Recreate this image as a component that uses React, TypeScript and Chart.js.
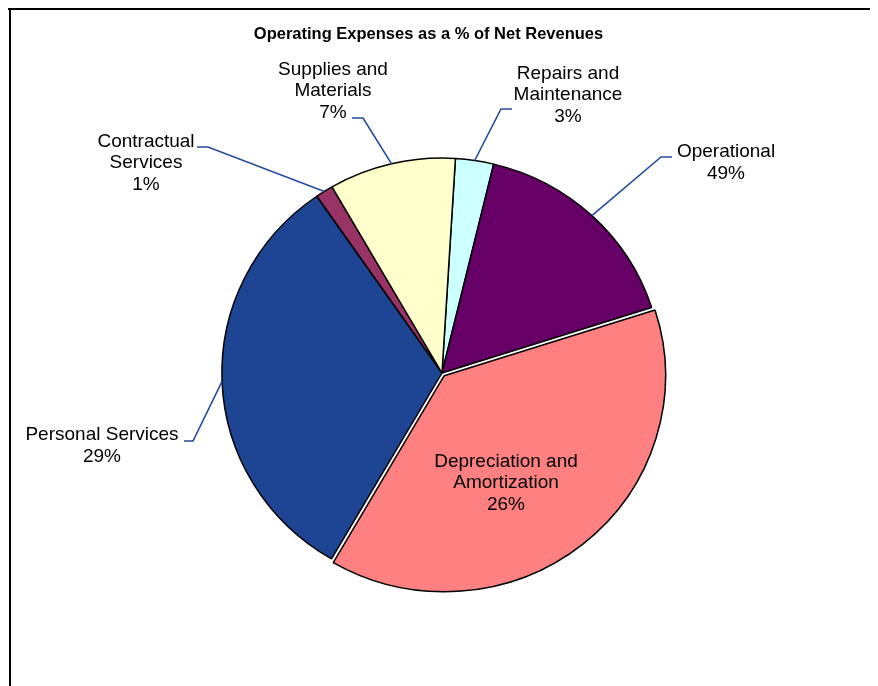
import { useEffect, useRef } from 'react';
import { Chart, registerables } from 'chart.js';

Chart.register(...registerables);

// ---------- data ----------
const TITLE = 'Operating Expenses as a % of Net Revenues';
const categories = [
  'Repairs and Maintenance',
  'Operational',
  'Depreciation and Amortization',
  'Personal Services',
  'Contractual Services',
  'Supplies and Materials',
];
const categoryLines = [
  ['Repairs and', 'Maintenance'],
  ['Operational'],
  ['Depreciation and', 'Amortization'],
  ['Personal Services'],
  ['Contractual', 'Services'],
  ['Supplies and', 'Materials'],
];
// slice sizes as drawn in the picture (share of the circle, %)
const sliceShares = [2.8, 16.3, 38.3, 32.0, 1.3, 9.3];
// percentages printed in the labels
const percentLabels = ['3%', '49%', '26%', '29%', '1%', '7%'];
const sliceColors = ['#CCFFFF', '#660066', '#FF8080', '#1E4594', '#993366', '#FFFFCC'];
const sliceOffsets = [0, 0, 14, 0, 0, 0];

// ---------- layout (relative to pie center, in px at reference radius) ----------
const REF_R = 217.5;
const STRETCH_X = 1.012;
const STRETCH_Y = 0.988;
const LABEL_LAYOUT: { text: [number, number]; tick?: [number, number, number, number] }[] = [
  { text: [126, -278], tick: [70, -264, 59, -264] },
  { text: [284, -210], tick: [230, -216, 219, -216] },
  { text: [64, 110] },
  { text: [-340, 73], tick: [-258, 68, -249, 68] },
  { text: [-296, -210], tick: [-245, -226, -234, -226] },
  { text: [-109, -282], tick: [-90, -255, -79, -255] },
];

const W = 870;
const H = 678;

const labelPlugin = {
  id: 'pieLabels',
  beforeDraw(chart: any) {
    const ctx = chart.ctx as CanvasRenderingContext2D;
    ctx.save();
    ctx.fillStyle = '#000';
    ctx.fillRect(0, 0, chart.width, 2);
    ctx.fillRect(1, 0, 2, chart.height);
    ctx.restore();
  },
  beforeDatasetsDraw(chart: any) {
    const ctx = chart.ctx as CanvasRenderingContext2D;
    const arc = chart.getDatasetMeta(0).data[0];
    ctx.save();
    if (arc) {
      ctx.translate(arc.x, arc.y);
      ctx.scale(STRETCH_X, STRETCH_Y);
      ctx.translate(-arc.x, -arc.y);
    }
  },
  afterDatasetsDraw(chart: any) {
    const ctx = chart.ctx as CanvasRenderingContext2D;
    ctx.restore();
    const meta = chart.getDatasetMeta(0);
    ctx.save();
    // title
    ctx.fillStyle = '#000';
    ctx.font = 'bold 16.5px "Liberation Sans", Arial, sans-serif';
    ctx.textAlign = 'center';
    ctx.textBaseline = 'middle';
    ctx.fillText(TITLE, 420.5, 26.5);

    meta.data.forEach((arc: any, i: number) => {
      const { x, y, startAngle, endAngle, outerRadius } = arc.getProps(
        ['x', 'y', 'startAngle', 'endAngle', 'outerRadius'],
        true
      );
      const k = outerRadius / REF_R;
      const L = LABEL_LAYOUT[i];
      const mid = (startAngle + endAngle) / 2;
      if (L.tick) {
        const sx = x + Math.cos(mid) * outerRadius * STRETCH_X;
        const sy = y + Math.sin(mid) * outerRadius * STRETCH_Y;
        ctx.beginPath();
        ctx.moveTo(x + L.tick[0] * k, y + L.tick[1] * k);
        ctx.lineTo(x + L.tick[2] * k, y + L.tick[3] * k);
        ctx.lineTo(sx, sy);
        ctx.strokeStyle = '#244C9C';
        ctx.lineWidth = 1.6;
        ctx.stroke();
      }
      const lines = [...categoryLines[i], percentLabels[i]];
      const n = lines.length;
      const lh = 21.5;
      const tx = x + L.text[0] * k;
      const ty = y + L.text[1] * k;
      ctx.font = '19px "Liberation Sans", Arial, sans-serif';
      ctx.fillStyle = '#000';
      lines.forEach((s, j) => {
        ctx.fillText(s, tx, ty + (j - (n - 1) / 2) * lh);
      });
    });
    ctx.restore();
  },
};

export default function App() {
  const ref = useRef<HTMLCanvasElement | null>(null);
  useEffect(() => {
    if (!ref.current) return;
    const chart = new Chart(ref.current, {
      type: 'pie',
      data: {
        labels: categories,
        datasets: [
          {
            data: sliceShares,
            backgroundColor: sliceColors,
            borderColor: '#000',
            borderWidth: 1.5,
            offset: sliceOffsets,
            hoverOffset: 0,
          },
        ],
      },
      options: {
        animation: false,
        responsive: false,
        devicePixelRatio: 1,
        events: [],
        rotation: 3.5,
        radius: REF_R,
        layout: { padding: { left: 0, right: 2, top: 52, bottom: 0 } },
        plugins: {
          legend: { display: false },
          tooltip: { enabled: false },
          title: { display: false },
        },
      } as any,
      plugins: [labelPlugin],
    });
    return () => chart.destroy();
  }, []);
  return (
    <canvas
      ref={ref}
      width={W}
      height={H}
      style={{ display: 'block', width: W, height: H }}
    />
  );
}
